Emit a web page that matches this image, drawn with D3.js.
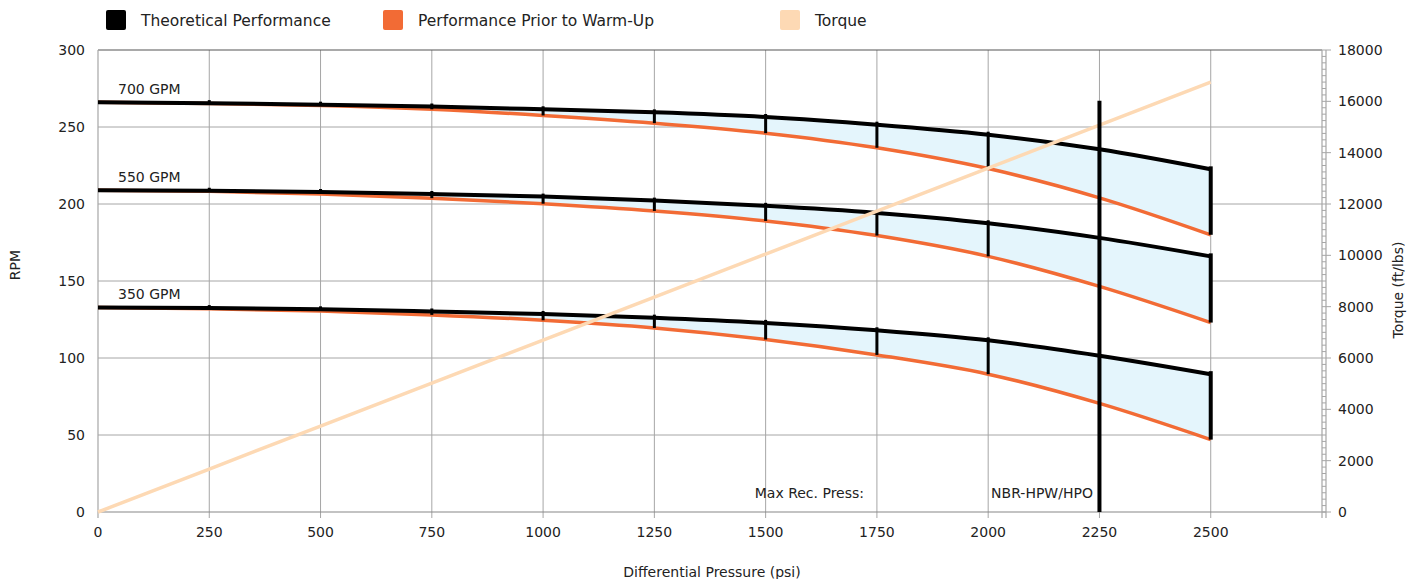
<!DOCTYPE html>
<html><head><meta charset="utf-8">
<script src="https://cdn.jsdelivr.net/npm/d3@7"></script>
<style>body{margin:0;background:#fff}svg{display:block}text{font-family:"DejaVu Sans",Verdana,sans-serif;fill:#222}</style>
</head><body><svg id="c" width="1421" height="579"></svg>
<script>
const pressure = [0,250,500,750,1000,1250,1500,1750,2000,2250,2500];
const flows = ["700 GPM","550 GPM","350 GPM"];
const theoretical700 = [266,265.5,264.5,263.3,261.5,259.5,256.5,251.5,245,235.5,222.5];
const warmup700      = [266,265.3,264,261.5,257.5,252.5,246,236.5,223,204,180];
const theoretical550 = [209,208.6,207.8,206.5,204.8,202.2,198.8,194.2,187.5,178,166];
const warmup550      = [209,208.2,206.5,203.8,200.2,195.5,189,179.5,166,146.5,123];
const theoretical350 = [132.8,132.4,131.6,130.2,128.6,126.2,122.8,118,111.5,101.5,89.5];
const warmup350      = [132.8,132,130.5,128,124.5,119.5,112,102,89.5,70.5,47];
const torque = [0,1675,3350,5025,6700,8375,10050,11725,13400,15075,16750];
const xTicks = [0,250,500,750,1000,1250,1500,1750,2000,2250,2500];
const yTicks = [0,50,100,150,200,250,300];
const y2Ticks = [0,2000,4000,6000,8000,10000,12000,14000,16000,18000];
const legendItems = ["Theoretical Performance","Performance Prior to Warm-Up","Torque"];
const maxRecPress = 2250, maxRecTop = 267;
const annotations = ["Max Rec. Press:","NBR-HPW/HPO"];

const svg = d3.select("#c");
const L=98,R=1322,T=50,B=512;
const FS=14;
const x = d3.scaleLinear().domain([0,2750]).range([L,R]);
const y = d3.scaleLinear().domain([0,300]).range([B,T]);
const y2 = d3.scaleLinear().domain([0,18000]).range([B,T]);
const cBlack="#000", cOrange="#f26b35", cTorque="#fdd9b4", cFill="#e4f5fc", cGrid="#a6a6a6";

// grid
const g = svg.append("g");
g.selectAll(".hg").data(yTicks.slice(1,-1)).join("line").attr("x1",L).attr("x2",R)
 .attr("y1",d=>y(d)).attr("y2",d=>y(d)).attr("stroke",cGrid).attr("stroke-width",1);
g.selectAll(".vg").data(xTicks.slice(1)).join("line").attr("y1",T).attr("y2",B+6)
 .attr("x1",d=>x(d)).attr("x2",d=>x(d)).attr("stroke",cGrid).attr("stroke-width",1);
// borders
g.append("line").attr("x1",L).attr("x2",R).attr("y1",T).attr("y2",T).attr("stroke","#555").attr("stroke-width",1.2);
g.append("line").attr("x1",L).attr("x2",L).attr("y1",T).attr("y2",B+6).attr("stroke",cGrid).attr("stroke-width",1.2);
g.append("line").attr("x1",L).attr("x2",R+4).attr("y1",B).attr("y2",B).attr("stroke","#888").attr("stroke-width",1.2);
// right axis ladder
g.append("line").attr("x1",R).attr("x2",R).attr("y1",T).attr("y2",B+6).attr("stroke",cGrid).attr("stroke-width",1.2);
g.append("line").attr("x1",R+4).attr("x2",R+4).attr("y1",T).attr("y2",B+6).attr("stroke",cGrid).attr("stroke-width",1.2);
g.selectAll(".mt").data(d3.range(0,18001,250)).join("line").attr("x1",R).attr("x2",R+4)
 .attr("y1",d=>y2(d)).attr("y2",d=>y2(d)).attr("stroke",cGrid).attr("stroke-width",1);
g.selectAll(".Mt").data(y2Ticks).join("line").attr("x1",R+4).attr("x2",R+9)
 .attr("y1",d=>y2(d)).attr("y2",d=>y2(d)).attr("stroke",cGrid).attr("stroke-width",1);

// axis labels
svg.append("g").selectAll("text").data(yTicks).join("text").attr("x",85).attr("y",d=>y(d)+5)
 .attr("text-anchor","end").attr("font-size",FS).text(d=>d);
svg.append("g").selectAll("text").data(xTicks).join("text").attr("x",d=>x(d)).attr("y",537)
 .attr("text-anchor","middle").attr("font-size",FS).text(d=>d);
svg.append("g").selectAll("text").data(y2Ticks).join("text").attr("x",1338).attr("y",d=>y2(d)+5)
 .attr("text-anchor","start").attr("font-size",FS).text(d=>d);
svg.append("text").attr("transform","translate(20,265) rotate(-90)").attr("text-anchor","middle").attr("font-size",FS).text("RPM");
svg.append("text").attr("transform","translate(1403,290) rotate(-90)").attr("text-anchor","middle").attr("font-size",FS).text("Torque (ft/lbs)");
svg.append("text").attr("x",712).attr("y",577).attr("text-anchor","middle").attr("font-size",FS).text("Differential Pressure (psi)");

// series
const series = [
 {name:flows[0], th:theoretical700, wu:warmup700},
 {name:flows[1], th:theoretical550, wu:warmup550},
 {name:flows[2], th:theoretical350, wu:warmup350}];
const curve = d3.curveMonotoneX;
const area = d3.area().x((d,i)=>x(pressure[i])).y0(d=>y(d[1])).y1(d=>y(d[0])).curve(curve);
const line = d3.line().x((d,i)=>x(pressure[i])).y(d=>y(d)).curve(curve);
series.forEach(s=>{
  const pairs = s.th.map((v,i)=>[v,s.wu[i]]);
  svg.append("path").attr("d",area(pairs)).attr("fill",cFill);
});
series.forEach(s=>{
  svg.append("path").attr("d",line(s.wu)).attr("fill","none").attr("stroke",cOrange).attr("stroke-width",3.5);
});
series.forEach(s=>{
  svg.append("path").attr("d",line(s.th)).attr("fill","none").attr("stroke",cBlack).attr("stroke-width",4);
  svg.append("g").selectAll("line").data(pressure.slice(1)).join("line")
   .attr("x1",d=>x(d)).attr("x2",d=>x(d))
   .attr("y1",(d,i)=>y(s.th[i+1])-3).attr("y2",(d,i)=>y(s.wu[i+1]))
   .attr("stroke",cBlack).attr("stroke-width",(d,i)=>i===pressure.length-2?4:3);
  svg.append("text").attr("x",118).attr("y",y(s.th[0])-8).attr("font-size",FS).text(s.name);
});
// torque
svg.append("path").attr("d",d3.line().x((d,i)=>x(pressure[i])).y(d=>y2(d))(torque))
 .attr("fill","none").attr("stroke",cTorque).attr("stroke-width",3.5);
// max rec press line
svg.append("line").attr("x1",x(maxRecPress)).attr("x2",x(maxRecPress)).attr("y1",y(maxRecTop)).attr("y2",B)
 .attr("stroke",cBlack).attr("stroke-width",4);
svg.append("text").attr("x",864).attr("y",498).attr("text-anchor","end").attr("font-size",FS).text(annotations[0]);
svg.append("text").attr("x",1042).attr("y",498).attr("text-anchor","middle").attr("font-size",FS).text(annotations[1]);

// legend
const lg = svg.append("g");
const lx=[106,383,780], lc=[cBlack,cOrange,cTorque];
legendItems.forEach((t,i)=>{
  lg.append("rect").attr("x",lx[i]).attr("y",10).attr("width",20).attr("height",20).attr("rx",2).attr("fill",lc[i]);
  lg.append("text").attr("x",lx[i]+35).attr("y",26).attr("font-size",15.5).text(t);
});
</script></body></html>
